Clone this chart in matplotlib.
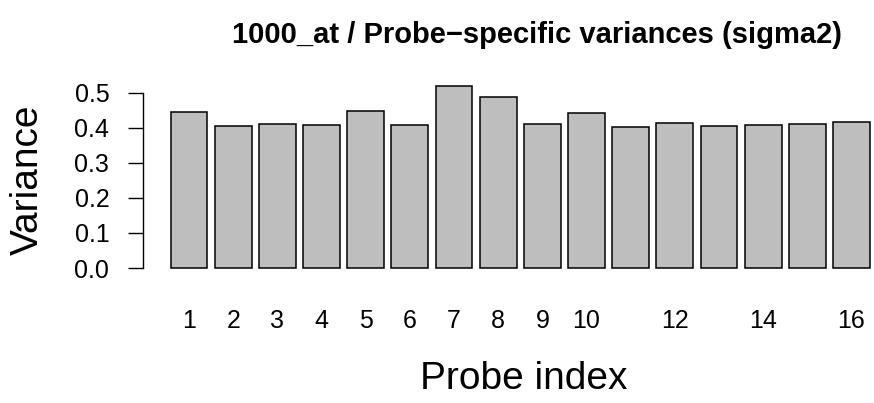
import matplotlib
matplotlib.use("Agg")
import matplotlib.pyplot as plt
import numpy as np

plt.rcParams['font.family'] = ['Liberation Sans', 'DejaVu Sans']

probe_index = list(range(1, 17))
variance = [0.445, 0.404, 0.410, 0.408, 0.448, 0.407, 0.519, 0.488,
            0.412, 0.443, 0.402, 0.414, 0.405, 0.409, 0.411, 0.415]
xtick_labels = ['1', '2', '3', '4', '5', '6', '7', '8', '9', '10', '12', '14', '16']
ytick_values = [0.0, 0.1, 0.2, 0.3, 0.4, 0.5]
ytick_labels = ['0.0', '0.1', '0.2', '0.3', '0.4', '0.5']
title = "1000_at / Probe\u2212specific variances (sigma2)"

W, H = 874, 403
fig = plt.figure(figsize=(W / 100, H / 100), dpi=100)

# axes in pixel coords
left_px, right_px = 142.7, 874.0
top_px, bottom_px = 78.7, 275.3
ax = fig.add_axes([left_px / W, 1 - bottom_px / H,
                   (right_px - left_px) / W, (bottom_px - top_px) / H])

width = 1.0
space = 0.2
lefts = [space + (width + space) * i for i in range(len(variance))]
centers = [l + width / 2 for l in lefts]
ax.bar(lefts, variance, width=width, align='edge', color='#bebebe',
       edgecolor='black', linewidth=1.1)

px_per_unit = 36.8
x0 = -0.56
ax.set_xlim(x0, x0 + (right_px - left_px) / px_per_unit)
ax.set_ylim(-0.0208, 0.5398)

for s in ['top', 'right', 'bottom']:
    ax.spines[s].set_visible(False)
ax.spines['left'].set_bounds(0, 0.5)
ax.spines['left'].set_linewidth(1.0)

ax.set_yticks(ytick_values)
ax.set_yticklabels(ytick_labels, fontsize=18)
ax.tick_params(axis='y', length=11, width=1.0, pad=13)

label_pos = [centers[int(t) - 1] for t in xtick_labels]
ax.set_xticks(label_pos)
ax.set_xticklabels(xtick_labels, fontsize=18)
ax.tick_params(axis='x', length=0, pad=24)

fig.text(537 / W, 1 - 35 / H, title, ha='center', va='center',
         fontsize=21, fontweight='bold')
fig.text(524 / W, 1 - 389 / H, 'Probe index', ha='center', va='baseline',
         fontsize=28)
fig.text(28 / W, 1 - 180 / H, 'Variance', ha='center', va='center',
         fontsize=28, rotation=90)

fig.savefig('out.png', dpi=100)
